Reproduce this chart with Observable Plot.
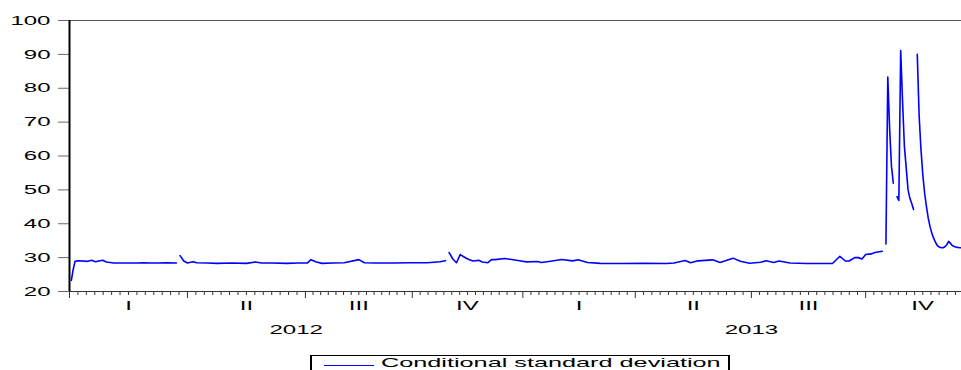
<!DOCTYPE html>
<html>
<head>
<meta charset="utf-8">
<script src="https://cdn.jsdelivr.net/npm/d3@7"></script>
<script src="https://cdn.jsdelivr.net/npm/@observablehq/plot@0.6"></script>
<style>
  body { margin: 0; background: #fff; }
  #wrap { position: relative; width: 961px; height: 370px; overflow: hidden; background: #fff;
          font-family: "Liberation Sans", Arial, sans-serif; }
  #chart svg { display: block; }
  #legend { position: absolute; left: 310px; top: 355px; width: 420px; height: 26px; box-sizing: border-box;
            border: 1px solid #000; border-left-width: 2px; border-right-width: 2px; background: #fff; }
  #legend .swatch { position: absolute; left: 12px; top: 9px; width: 50px; height: 1px; background: #0000ff; }
  #legend .label { position: absolute; left: 69px; top: 0px; font-size: 13.5px; line-height: 13px; color: #000;
                   white-space: nowrap; transform: scaleX(1.87); transform-origin: left center; }
</style>
</head>
<body>
<div id="wrap">
  <div id="chart"></div>
  <div id="legend"><div class="swatch"></div><div class="label">Conditional standard deviation</div></div>
</div>
<script>
// Observation index (trading days from start of 2012) and conditional standard deviation
const obs = [1,2,3,5,10,12,14,18,20,24,30,37,40,44,48,53,58,59,
  60,62,64,67,69,75,80,88,96,101,104,110,118,124,129,131,134,137,143,149,157,160,166,176,185,194,201,204,205,
  206,208,210,212,215,217,219,222,224,227,229,231,236,240,245,248,254,256,261,267,273,276,281,288,300,312,324,
  328,334,337,341,349,353,360,364,369,375,378,382,385,391,400,414,418,421,423,426,428,430,432,435,437,441,442,
  443,444,445,446,447,448,
  449,450,451,452,453,454,455,456,457,458,459,
  460,461,462,463,464,465,466,467,468,469,470,471,472,473,474,475,476,477,478,479,480,481,482,483,484];
const csd = [23.3,26.5,28.9,29.1,28.9,29.2,28.8,29.2,28.7,28.4,28.4,28.4,28.5,28.4,28.4,28.5,28.4,NaN,
  30.6,29.0,28.4,28.8,28.5,28.4,28.3,28.4,28.3,28.7,28.4,28.4,28.3,28.4,28.4,29.4,28.7,28.3,28.4,28.5,29.4,28.5,28.4,28.4,28.5,28.5,28.8,29.1,NaN,
  31.5,29.6,28.5,30.9,29.9,29.4,29.0,29.2,28.7,28.5,29.4,29.4,29.75,29.45,29.0,28.75,28.85,28.55,28.95,29.45,29.05,29.35,28.55,28.3,28.25,28.3,28.25,
  28.4,29.15,28.5,29.05,29.35,28.55,29.85,28.95,28.35,28.65,29.05,28.55,29.0,28.4,28.25,28.25,30.4,29.0,29.0,30.0,30.0,29.6,30.9,31.1,31.5,31.9,NaN,
  34.0,83.3,68,57,52.0,NaN,
  48.0,46.9,91.1,76.4,63,56.5,50,47.5,46,44.2,NaN,
  90.0,72,62,54.5,49,45,41.5,39.0,37,35.6,34.4,33.5,33.1,32.9,32.9,33.2,33.8,34.8,34.2,33.6,33.3,33.1,33.0,32.9,32.9];

// Axis structure: quarter start observations, labels, years
const quarterStarts = [0, 64, 128, 186, 246, 307, 370, 432, 494];
const quarterLabels = ["I", "II", "III", "IV", "I", "II", "III", "IV"];
const years = ["2012", "2013"];
const yearStarts = [0, 246, 494];
const yTicks = [20, 30, 40, 50, 60, 70, 80, 90, 100];

const series = obs.map((o, i) => ({obs: o, csd: csd[i]}));
const quarterMid = quarterLabels.map((_, i) => (quarterStarts[i] + quarterStarts[i + 1]) / 2);
const yearMid = years.map((_, i) => (yearStarts[i] + yearStarts[i + 1]) / 2);
const minorTicks = [];
for (let q = 0; q < quarterStarts.length - 1; q++) {
  const a = quarterStarts[q], b = quarterStarts[q + 1];
  for (let k = 1; k < 14; k++) minorTicks.push(a + k * (b - a) / 14);
}

const chart = Plot.plot({
  width: 961, height: 350,
  marginTop: 20, marginBottom: 59, marginLeft: 69, marginRight: 0,
  style: {fontFamily: '"Liberation Sans", Arial, sans-serif', fontSize: "13px", color: "#000", background: "#fff"},
  x: {domain: [0, 484], label: null},
  y: {domain: [20, 100], label: null},
  marks: [
    Plot.ruleY([100], {stroke: "#555"}),
    Plot.ruleY([20], {stroke: "#333"}),
    Plot.axisX(minorTicks.filter(t => t <= 484), {tickSize: 4, tickFormat: () => "", stroke: "#333", label: null}),
    Plot.axisX(quarterStarts.filter(t => t <= 484), {tickSize: 7, tickFormat: () => "", stroke: "#333", label: null}),
    Plot.axisY(yTicks, {tickSize: 11, tickPadding: 8, stroke: "#666", label: null}),
    Plot.ruleX([0], {stroke: "#000", strokeWidth: 2}),
    Plot.text(quarterLabels, {x: (d, i) => quarterMid[i], y: () => 20, text: d => d, dy: 14.5, fill: "#000"}),
    Plot.text(years, {x: (d, i) => yearMid[i], y: () => 20, text: d => d, dy: 38.5, fill: "#000"}),
    Plot.line(series, {x: "obs", y: "csd", stroke: "#0000ff", strokeWidth: 1.6})
  ]
});
document.getElementById("chart").appendChild(chart);

// The reference's lettering is stretched horizontally; stretch each text around its anchor.
const S = 1.85;
chart.querySelectorAll("text").forEach(el => {
  if (!el.textContent) return;
  const b = el.getBBox();
  const anchor = getComputedStyle(el).textAnchor;
  const ax = anchor === "end" ? b.x + b.width : anchor === "middle" ? b.x + b.width / 2 : b.x;
  const t = el.getAttribute("transform") || "";
  el.setAttribute("transform", `${t} translate(${ax},0) scale(${S},1) translate(${-ax},0)`);
});
</script>
</body>
</html>
